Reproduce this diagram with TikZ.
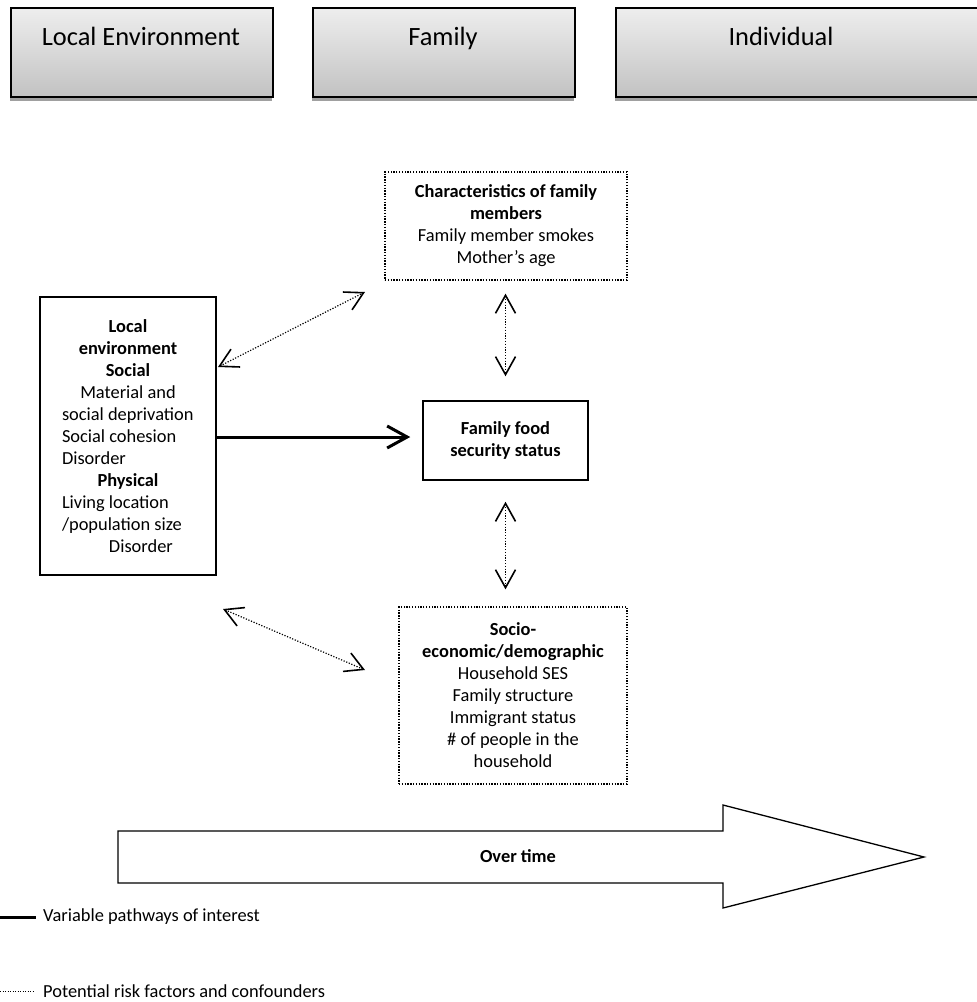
\documentclass[tikz,border=0pt]{standalone}
\usepackage{fontspec}
\setmainfont{Carlito}
\usetikzlibrary{arrows.meta}

\definecolor{hdtop}{RGB}{238,238,238}
\definecolor{hdbot}{RGB}{194,194,194}
\definecolor{hdshadow}{RGB}{160,160,160}

\newcommand\txtsz{\fontsize{18.4}{22}\selectfont}
\newcommand\hdsz{\fontsize{26.4}{32}\selectfont}

\tikzset{
  headbox/.style={draw=black, line width=1.6pt, top color=hdtop, bottom color=hdbot,
                  inner sep=0pt, anchor=north west},
  headtext/.style={font=\hdsz, inner sep=0pt, anchor=base},
  shadowstrip/.style={fill=hdshadow},
  solidbox/.style={draw=black, line width=1.5pt, align=center, font=\txtsz, inner sep=0pt},
  dotbox/.style={draw=black, line width=1.3pt, dash pattern=on 1.3pt off 1.5pt,
                 align=center, font=\txtsz, inner sep=0pt},
  dotlink/.style={line width=1.2pt, dash pattern=on 1.2pt off 1.6pt,
                  {Straight Barb[length=18pt,width=20pt,line width=1.6pt]}-{Straight Barb[length=18pt,width=20pt,line width=1.6pt]}},
  mainlink/.style={line width=3pt, -{Straight Barb[length=20pt,width=22pt,line width=3pt]}},
  legendtext/.style={font=\txtsz, anchor=west, inner sep=0pt},
}

\begin{document}
\begin{tikzpicture}[x=1pt,y=-1pt]
\useasboundingbox (0,0) rectangle (977,1002);

% level headers
\fill[shadowstrip] (10,97) rectangle (272,101);
\fill[shadowstrip] (312,97) rectangle (574,101);
\fill[shadowstrip] (615,97) rectangle (977,101);
\node[headbox, minimum width=262, minimum height=89] (hbLocal) at (10,7) {};
\node[headbox, minimum width=262, minimum height=89] (hbFamily) at (312,7) {};
\node[headbox, minimum width=362, minimum height=89] (hbIndiv) at (615,7) {};
\node[headtext] (htLocal) at (141,45) {Local Environment};
\node[headtext] (htFamily) at (443,45) {Family};
\node[headtext] (htIndiv) at (781,45) {Individual};

% family-level factors
\node[dotbox, minimum width=242, minimum height=108] (chars) at (506,226)
  {\textbf{Characteristics of family}\\ \textbf{members}\\ Family member smokes\\ Mother’s age};

\node[solidbox, minimum width=165, minimum height=79] (food) at (505.5,440.5)
  {\textbf{Family food}\\ \textbf{security status}};

\node[dotbox, minimum width=228, minimum height=177] (socio) at (513,695.5)
  {\textbf{Socio-}\\ \textbf{economic/demographic}\\ Household SES\\ Family structure\\
   Immigrant status\\ \# of people in the\\ household};

% local environment
\node[solidbox, minimum width=176, minimum height=278] (env) at (128,436)
  {\makebox[132pt]{\bfseries Local}\\
   \makebox[132pt]{\bfseries environment}\\
   \makebox[132pt]{\bfseries Social}\\
   \makebox[132pt]{Material and}\\
   \makebox[132pt][l]{social deprivation}\\
   \makebox[132pt][l]{Social cohesion}\\
   \makebox[132pt][l]{Disorder}\\
   \makebox[132pt]{\bfseries Physical}\\
   \makebox[132pt][l]{Living location}\\
   \makebox[132pt][l]{/population size}\\
   \makebox[132pt][l]{\hspace*{47pt}Disorder}};

% connectors
\draw[mainlink, shorten >=12pt] (env.east |- 0,437) -- (food.west |- 0,437);
\draw[dotlink, shorten <=13pt, shorten >=24pt] (chars.south -| food.north) -- (food.north);
\draw[dotlink, shorten <=21pt, shorten >=17pt] (food.south) -- (food.south |- socio.north);

\coordinate (envUp) at (218,367);
\coordinate (charsEnd) at (365,292);
\coordinate (envDown) at (223,609);
\coordinate (socioEnd) at (365,670);
\draw[dotlink] (envUp) -- (charsEnd);
\draw[dotlink] (envDown) -- (socioEnd);

% time arrow
\draw[line width=1.3pt, line join=miter] (118,831) -- (723,831) -- (723,805) -- (924,857)
  -- (723,908) -- (723,883) -- (118,883) -- cycle;
\node[font=\txtsz\bfseries, inner sep=0pt] (time) at (518,856) {Over time};

% legend
\coordinate (legA0) at (0,917);
\coordinate (legA1) at (36,917);
\draw[line width=3pt] (legA0) -- (legA1);
\node[legendtext] (legA) at (43,917) {Variable pathways of interest};
\coordinate (legB0) at (0,991);
\coordinate (legB1) at (34,991);
\draw[line width=1pt, dash pattern=on 1pt off 1.5pt] (legB0) -- (legB1);
\node[legendtext] (legB) at (43,991) {Potential risk factors and confounders};
\end{tikzpicture}
\end{document}
